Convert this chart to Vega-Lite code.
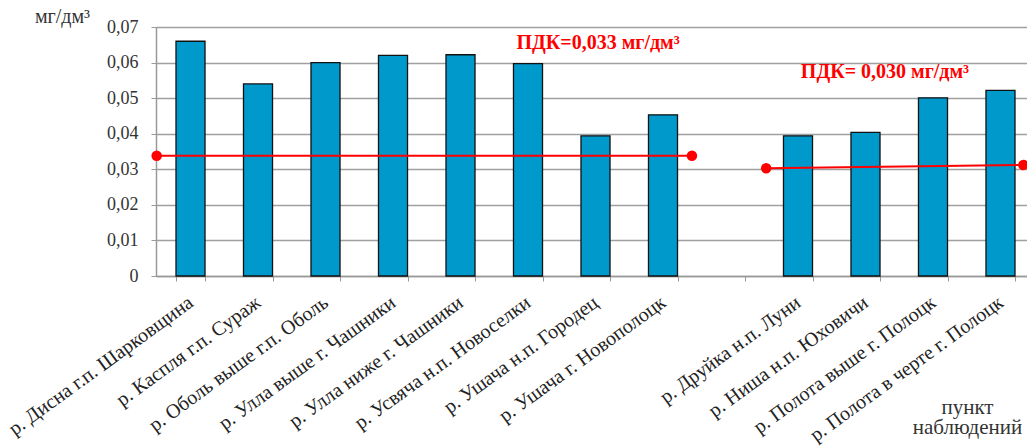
{
  "$schema": "https://vega.github.io/schema/vega-lite/v6.json",
  "autosize": {"type": "none"},
  "padding": {"left": 156, "top": 27, "right": 0, "bottom": 170},
  "width": 871,
  "height": 249,
  "config": {
    "view": {"stroke": null},
    "font": "Times New Roman, Liberation Serif, serif"
  },
  "datasets": {
    "bars": [
      {"site": "р. Дисна г.п. Шарковщина", "value": 0.066},
      {"site": "р. Каспля г.п. Сураж", "value": 0.054},
      {"site": "р. Оболь выше г.п. Оболь", "value": 0.060},
      {"site": "р. Улла выше г. Чашники", "value": 0.062},
      {"site": "р. Улла ниже г. Чашники", "value": 0.0622},
      {"site": "р. Усвяча н.п. Новоселки", "value": 0.0597},
      {"site": "р. Ушача н.п. Городец", "value": 0.0394},
      {"site": "р. Ушача г. Новополоцк", "value": 0.0453},
      {"site": "р. Друйка н.п. Луни", "value": 0.0394},
      {"site": "р. Ниша н.п. Юховичи", "value": 0.0404},
      {"site": "р. Полота выше г. Полоцк", "value": 0.0501},
      {"site": "р. Полота в черте г. Полоцк", "value": 0.0522}
    ],
    "pdk": [
      {"group": "a", "pos": 0.01, "value": 0.0338},
      {"group": "a", "pos": 7.94, "value": 0.0338},
      {"group": "b", "pos": 9.04, "value": 0.0303},
      {"group": "b", "pos": 12.85, "value": 0.0312}
    ],
    "notes": [
      {"pos": 6.55, "value": 0.0655, "label": "ПДК=0,033 мг/дм³"},
      {"pos": 10.8, "value": 0.0574, "label": "ПДК= 0,030 мг/дм³"}
    ]
  },
  "encoding": {
    "y": {
      "field": "value",
      "type": "quantitative",
      "scale": {"domain": [0, 0.07], "nice": false},
      "axis": {
        "values": [0, 0.01, 0.02, 0.03, 0.04, 0.05, 0.06, 0.07],
        "tickCount": 12,
        "labelOverlap": false,
        "labelExpr": "datum.value == 0 ? '0' : replace(format(datum.value, '.2f'), '.', ',')",
        "labelFont": "Times New Roman, Liberation Serif, serif",
        "labelFontSize": 18,
        "labelColor": "#333333",
        "labelPadding": 13,
        "tickColor": "#999999",
        "tickSize": 5,
        "domainColor": "#999999",
        "domainWidth": 1.5,
        "grid": true,
        "gridColor": "#a0a0a0",
        "gridWidth": 1.3,
        "title": "мг/дм³",
        "titleAngle": 0,
        "titleFont": "Times New Roman, Liberation Serif, serif",
        "titleFontSize": 20,
        "titleFontWeight": "normal",
        "titleColor": "#333333",
        "titleAlign": "center",
        "titleBaseline": "alphabetic",
        "titleX": -94,
        "titleY": -5
      }
    }
  },
  "layer": [
    {
      "data": {"name": "bars"},
      "mark": {"type": "bar", "fill": "#0099CC", "stroke": "#111111", "strokeWidth": 1.3},
      "encoding": {
        "x": {
          "field": "site",
          "type": "nominal",
          "sort": null,
          "scale": {
            "domain": ["р. Дисна г.п. Шарковщина", "р. Каспля г.п. Сураж", "р. Оболь выше г.п. Оболь", "р. Улла выше г. Чашники", "р. Улла ниже г. Чашники", "р. Усвяча н.п. Новоселки", "р. Ушача н.п. Городец", "р. Ушача г. Новополоцк", "", "р. Друйка н.п. Луни", "р. Ниша н.п. Юховичи", "р. Полота выше г. Полоцк", "р. Полота в черте г. Полоцк"],
            "paddingInner": 0.57,
            "paddingOuter": 0.237,
            "align": 0.625
          },
          "axis": {
            "title": ["пункт", "наблюдений"],
            "titleFont": "Times New Roman, Liberation Serif, serif",
            "titleFontSize": 21,
            "titleFontWeight": "normal",
            "titleColor": "#333333",
            "titleLineHeight": 20,
            "titleAlign": "center",
            "titleBaseline": "middle",
            "titleX": 811,
            "titleY": 131,
            "labelAngle": -36,
            "labelAlign": "right",
            "labelBaseline": "middle",
            "labelFont": "Times New Roman, Liberation Serif, serif",
            "labelFontSize": 20,
            "labelColor": "#222222",
            "labelPadding": 19,
            "labelOverlap": false,
            "labelLimit": 400,
            "tickBand": "extent",
            "tickColor": "#999999",
            "tickSize": 5,
            "domainColor": "#999999",
            "domainWidth": 1.5,
            "grid": false
          }
        }
      }
    },
    {
      "data": {"name": "pdk"},
      "mark": {"type": "line", "color": "#FF0000", "strokeWidth": 2, "point": {"filled": true, "size": 110, "color": "#FF0000"}},
      "encoding": {
        "x": {"field": "pos", "type": "quantitative", "scale": {"domain": [0, 12.904], "nice": false, "zero": false}, "axis": null},
        "detail": {"field": "group", "type": "nominal"}
      }
    },
    {
      "data": {"name": "notes"},
      "mark": {"type": "text", "color": "#FF0000", "font": "Times New Roman, Liberation Serif, serif", "fontSize": 20, "fontWeight": "bold", "align": "center", "baseline": "middle"},
      "encoding": {
        "x": {"field": "pos", "type": "quantitative", "scale": {"domain": [0, 12.904], "nice": false, "zero": false}, "axis": null},
        "text": {"field": "label", "type": "nominal"}
      }
    }
  ],
  "resolve": {"scale": {"x": "independent"}}
}
